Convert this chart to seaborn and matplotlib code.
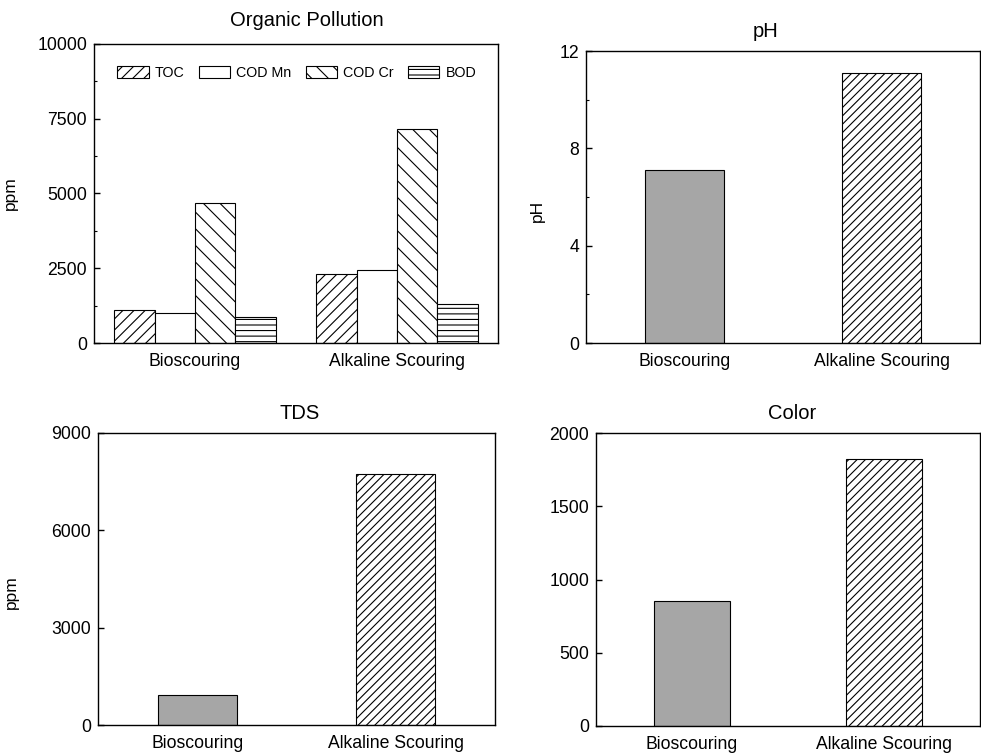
import numpy as np
import pandas as pd
import seaborn as sns
import matplotlib.pyplot as plt
from matplotlib.ticker import MultipleLocator

processes = ["Bioscouring", "Alkaline Scouring"]

# organic pollution (ppm)
indicators = ["TOC", "COD Mn", "COD Cr", "BOD"]
organic = {
    "TOC": [1100, 2300],
    "COD Mn": [1010, 2440],
    "COD Cr": [4680, 7150],
    "BOD": [880, 1320],
}
ph_vals = [7.1, 11.1]
tds_vals = [920, 7740]
color_vals = [855, 1825]

grey = "#a6a6a6"

sns.set_style("white")
plt.rcParams["font.family"] = ["Liberation Sans", "DejaVu Sans"]
plt.rcParams["hatch.linewidth"] = 0.8
plt.rcParams["text.color"] = "black"
plt.rcParams["axes.labelcolor"] = "black"
plt.rcParams["xtick.color"] = "black"
plt.rcParams["ytick.color"] = "black"

fig = plt.figure(figsize=(9.81, 7.55), dpi=100)
W, H = 981, 755

def box(l, t, r, b):
    return [l / W, (H - b) / H, (r - l) / W, (b - t) / H]

ax1 = fig.add_axes(box(94, 44, 498, 343))
ax2 = fig.add_axes(box(586, 51, 980, 343))
ax3 = fig.add_axes(box(98, 433, 495, 725))
ax4 = fig.add_axes(box(596, 433, 980, 726))

# --- organic pollution, grouped bars
df = pd.DataFrame({
    "process": np.repeat(processes, len(indicators)),
    "indicator": indicators * len(processes),
    "ppm": [organic[k][i] for i in range(len(processes)) for k in indicators],
})
sns.barplot(data=df, x="process", y="ppm", hue="indicator", hue_order=indicators,
            palette=["white"] * 4, edgecolor="black", linewidth=0.8, ax=ax1)
hatches = ["///", "", "\\\\", "---"]
for cont, h in zip(ax1.containers, hatches):
    for bar in cont:
        bar.set_hatch(h)
ax1.legend(ax1.containers, indicators, ncol=4, frameon=False, fontsize=10.3,
           loc="center left", bbox_to_anchor=(0.057, 0.903), borderpad=0,
           handlelength=2.2, handleheight=0.9, handletextpad=0.42,
           columnspacing=1.0, borderaxespad=0)
ax1.set_ylim(0, 10000)
ax1.yaxis.set_major_locator(MultipleLocator(2500))
ax1.yaxis.set_minor_locator(MultipleLocator(1250))

# --- single-bar panels
def two_bars(ax, vals):
    sns.barplot(x=processes, y=vals, hue=processes, palette=[grey, "white"],
                legend=False, width=0.4, edgecolor="black", linewidth=0.8, ax=ax)
    ax.patches[1].set_hatch("////")

two_bars(ax2, ph_vals)
ax2.set_ylim(0, 12)
ax2.yaxis.set_major_locator(MultipleLocator(4))
ax2.yaxis.set_minor_locator(MultipleLocator(2))

two_bars(ax3, tds_vals)
ax3.set_ylim(0, 9000)
ax3.yaxis.set_major_locator(MultipleLocator(3000))

two_bars(ax4, color_vals)
ax4.set_ylim(0, 2000)
ax4.yaxis.set_major_locator(MultipleLocator(500))

titles = ["Organic Pollution", "pH", "TDS", "Color"]
title_pos = [(0.526, 1.080), (0.457, 1.068), (0.508, 1.067), (0.510, 1.068)]
ylabels = ["ppm", "pH", "ppm", ""]
ylabel_pos = [(-0.188, 0.5), (-0.104, 0.452), (-0.2, 0.455), (0, 0.5)]

for ax, t, tp, yl, yp in zip([ax1, ax2, ax3, ax4], titles, title_pos, ylabels, ylabel_pos):
    ax.set_xlim(-0.5, 1.5)
    ax.text(tp[0], tp[1], t, transform=ax.transAxes, ha="center", va="center", fontsize=14.5)
    ax.set_xlabel("")
    ax.set_ylabel(yl, fontsize=12.5)
    ax.yaxis.set_label_coords(*yp)
    for s in ax.spines.values():
        s.set_linewidth(1.0)
        s.set_color("black")
    ax.tick_params(axis="y", which="major", direction="in", length=4, width=1.0,
                   left=True, labelsize=12.7, pad=5)
    ax.tick_params(axis="y", which="minor", direction="in", length=2.5, width=0.8, left=True)
    ax.tick_params(axis="x", bottom=False, labelsize=12.7, pad=4)

fig.savefig("out.png", dpi=100)
